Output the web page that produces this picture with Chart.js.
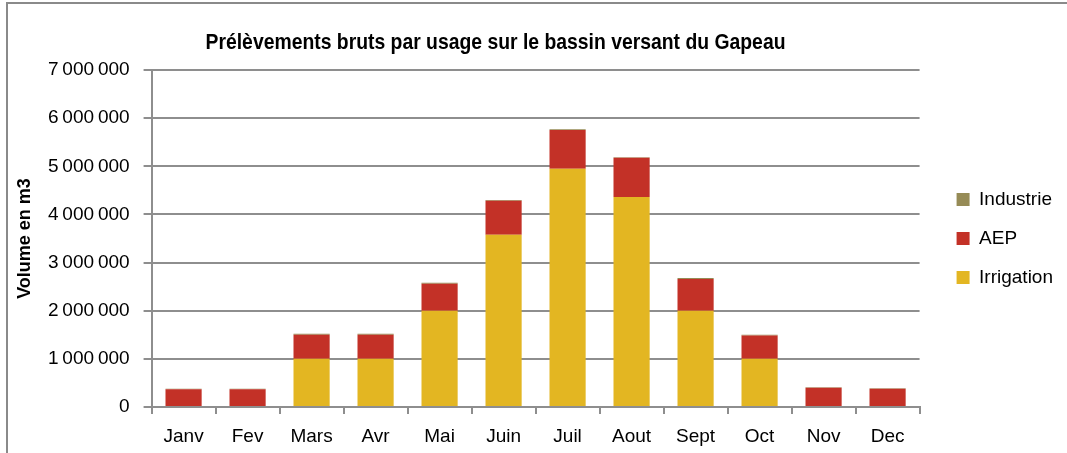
<!DOCTYPE html>
<html>
<head>
<meta charset="utf-8">
<script src="https://cdn.jsdelivr.net/npm/chart.js@4.4.1/dist/chart.umd.min.js"></script>
<style>
  html, body { margin: 0; padding: 0; background: #fff; }
  #wrap { position: relative; width: 1067px; height: 453px; overflow: hidden; }
  #frame { position: absolute; left: 6px; top: 2px; width: 1100px; height: 500px;
           border-left: 2px solid #8a8a8a; border-top: 2px solid #8a8a8a; }
  canvas { position: absolute; left: 0; top: 0; }
</style>
</head>
<body>
<div id="wrap">
  <div id="frame"></div>
  <canvas id="chart" width="1067" height="453"></canvas>
</div>
<script>
// months on the x axis
const months = ['Janv', 'Fev', 'Mars', 'Avr', 'Mai', 'Juin', 'Juil', 'Aout', 'Sept', 'Oct', 'Nov', 'Dec'];

// volumes in m3
const irrigation = [0, 0, 1000000, 1000000, 2000000, 3580000, 4950000, 4360000, 2000000, 1000000, 0, 0];
const aep = [370000, 370000, 500000, 500000, 560000, 705000, 805000, 815000, 660000, 485000, 400000, 380000];
const industrie = [10000, 10000, 20000, 20000, 20000, 15000, 15000, 15000, 20000, 15000, 10000, 10000];

const yTicks = [0, 1000000, 2000000, 3000000, 4000000, 5000000, 6000000, 7000000];

const GRID = '#8e8e8e';
const FONT = "'Liberation Sans', Arial, sans-serif";

function fmt(v) {
  return String(v).replace(/\B(?=(\d{3})+(?!\d))/g, '\u2009');
}

// title drawn where the original sits (a bit left of the plot centre), squeezed like Arial Narrow
const titlePlugin = {
  id: 'placedTitle',
  afterDraw(chart) {
    const ctx = chart.ctx;
    ctx.save();
    ctx.font = "bold 22px 'Liberation Sans', Arial, sans-serif";
    ctx.fillStyle = '#000';
    ctx.textAlign = 'center';
    ctx.textBaseline = 'middle';
    ctx.translate(495.5, 43);
    ctx.scale(0.88, 1);
    ctx.fillText('Prélèvements bruts par usage sur le bassin versant du Gapeau', 0, 0);
    ctx.restore();
  }
};

new Chart(document.getElementById('chart'), {
  type: 'bar',
  data: {
    labels: months,
    datasets: [
      { label: 'Irrigation', data: irrigation, backgroundColor: '#E3B622' },
      { label: 'AEP', data: aep, backgroundColor: '#C33127' },
      { label: 'Industrie', data: industrie, backgroundColor: '#968B56' }
    ]
  },
  options: {
    responsive: false,
    animation: false,
    layout: { padding: { left: 16, right: 4, top: 70, bottom: 0 } },
    datasets: { bar: { categoryPercentage: 1, barPercentage: 0.565, borderWidth: 0 } },
    plugins: {
      legend: {
        position: 'right',
        fullSize: false,
        reverse: true,
        labels: {
          font: { family: FONT, size: 19 },
          color: '#000',
          boxWidth: 13,
          boxHeight: 13,
          padding: 20
        }
      },
      title: { display: false },
      tooltip: { enabled: false }
    },
    scales: {
      x: {
        stacked: true,
        grid: { offset: true, drawOnChartArea: false, color: GRID, lineWidth: 2, tickLength: 7 },
        border: { color: GRID, width: 2 },
        ticks: { font: { family: FONT, size: 19 }, color: '#000', padding: 11 },
        afterFit: s => { s.height = 46; }
      },
      y: {
        stacked: true,
        min: 0,
        max: 7000000,
        afterBuildTicks: axis => { axis.ticks = yTicks.map(v => ({ value: v })); },
        grid: { color: GRID, lineWidth: 2, tickLength: 8 },
        border: { color: GRID, width: 2 },
        ticks: { font: { family: FONT, size: 19 }, color: '#000', padding: 14, callback: v => fmt(v) },
        title: {
          display: true,
          text: 'Volume en m3',
          font: { family: FONT, size: 18, weight: 'bold', lineHeight: 1 },
          color: '#000',
          padding: { top: 0, bottom: 0 }
        }
      },
      // empty spacer on the right, keeps the legend away from the plot
      gap: {
        position: 'right',
        display: true,
        grid: { display: false },
        border: { display: false },
        ticks: { display: false },
        afterFit: s => { s.width = 17; }
      }
    }
  },
  plugins: [titlePlugin]
});
</script>
</body>
</html>
